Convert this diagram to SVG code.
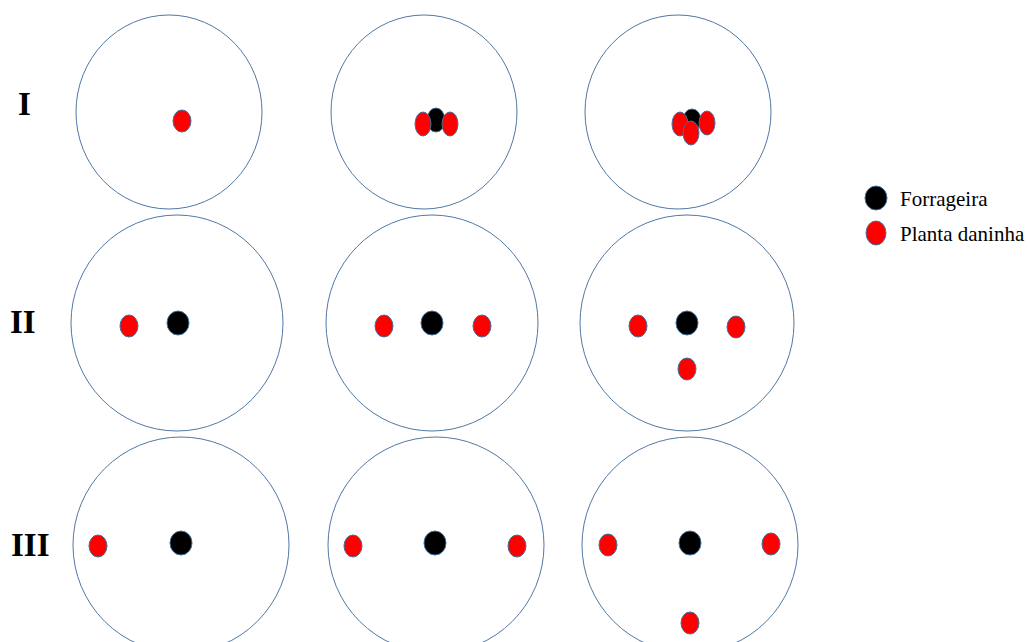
<svg xmlns="http://www.w3.org/2000/svg" width="1030" height="642" viewBox="0 0 1030 642">
<style>
.ring{fill:none;stroke:#5277a6;stroke-width:1}
.b{fill:#000;stroke:#41719c;stroke-width:1}
.r{fill:#ff0000;stroke:#41719c;stroke-width:1}
.lab{font-family:"Liberation Serif",serif;font-weight:bold;font-size:33px;fill:#000}
.leg{font-family:"Liberation Serif",serif;font-size:21px;fill:#000}
</style>
<rect width="1030" height="642" fill="#fff"/>
<g id="labels">
<text class="lab" x="18" y="115">I</text>
<text class="lab" x="10" y="333">II</text>
<text class="lab" x="11" y="556">III</text>
</g>
<g id="row1">
<g id="c11"><ellipse class="ring" cx="169" cy="112" rx="93" ry="97"/><ellipse class="r" cx="182" cy="121" rx="9" ry="11"/></g>
<g id="c12"><ellipse class="ring" cx="424" cy="112" rx="93" ry="97"/><ellipse class="b" cx="436" cy="120" rx="9" ry="12"/><ellipse class="r" cx="423" cy="124" rx="8" ry="12"/><ellipse class="r" cx="450" cy="124" rx="8" ry="12"/></g>
<g id="c13"><ellipse class="ring" cx="678" cy="112" rx="93" ry="97"/><ellipse class="b" cx="692" cy="120" rx="9" ry="11"/><ellipse class="r" cx="680" cy="124" rx="8" ry="12"/><ellipse class="r" cx="707" cy="123" rx="8" ry="12"/><ellipse class="r" cx="691" cy="133" rx="8" ry="12"/></g>
</g>
<g id="row2">
<g id="c21"><ellipse class="ring" cx="177" cy="323" rx="106" ry="108"/><ellipse class="b" cx="178" cy="323" rx="11" ry="12"/><ellipse class="r" cx="129" cy="326" rx="9" ry="11"/></g>
<g id="c22"><ellipse class="ring" cx="432" cy="323" rx="106" ry="108"/><ellipse class="b" cx="432" cy="323" rx="11" ry="12"/><ellipse class="r" cx="384" cy="326" rx="9" ry="11"/><ellipse class="r" cx="482" cy="326" rx="9" ry="11"/></g>
<g id="c23"><ellipse class="ring" cx="687" cy="323" rx="107" ry="108"/><ellipse class="b" cx="687" cy="323" rx="11" ry="12"/><ellipse class="r" cx="638" cy="326" rx="9" ry="11"/><ellipse class="r" cx="736" cy="327" rx="9" ry="11"/><ellipse class="r" cx="687" cy="369" rx="9" ry="11"/></g>
</g>
<g id="row3">
<g id="c31"><ellipse class="ring" cx="181" cy="545" rx="108" ry="108"/><ellipse class="b" cx="181" cy="543" rx="11" ry="12"/><ellipse class="r" cx="98" cy="546" rx="9" ry="11"/></g>
<g id="c32"><ellipse class="ring" cx="436" cy="545" rx="108" ry="108"/><ellipse class="b" cx="435" cy="543" rx="11" ry="12"/><ellipse class="r" cx="353" cy="546" rx="9" ry="11"/><ellipse class="r" cx="517" cy="546" rx="9" ry="11"/></g>
<g id="c33"><ellipse class="ring" cx="690" cy="545" rx="108" ry="108"/><ellipse class="b" cx="690" cy="543" rx="11" ry="12"/><ellipse class="r" cx="608" cy="545" rx="9" ry="11"/><ellipse class="r" cx="771" cy="544" rx="9" ry="11"/><ellipse class="r" cx="690" cy="623" rx="9" ry="11"/></g>
</g>
<g id="legend">
<ellipse class="b" cx="876" cy="198" rx="11" ry="12"/>
<ellipse class="r" cx="876" cy="233" rx="10" ry="12"/>
<text class="leg" x="900" y="206">Forrageira</text>
<text class="leg" x="900" y="241">Planta daninha</text>
</g>
<g id="connectors"/>
</svg>
